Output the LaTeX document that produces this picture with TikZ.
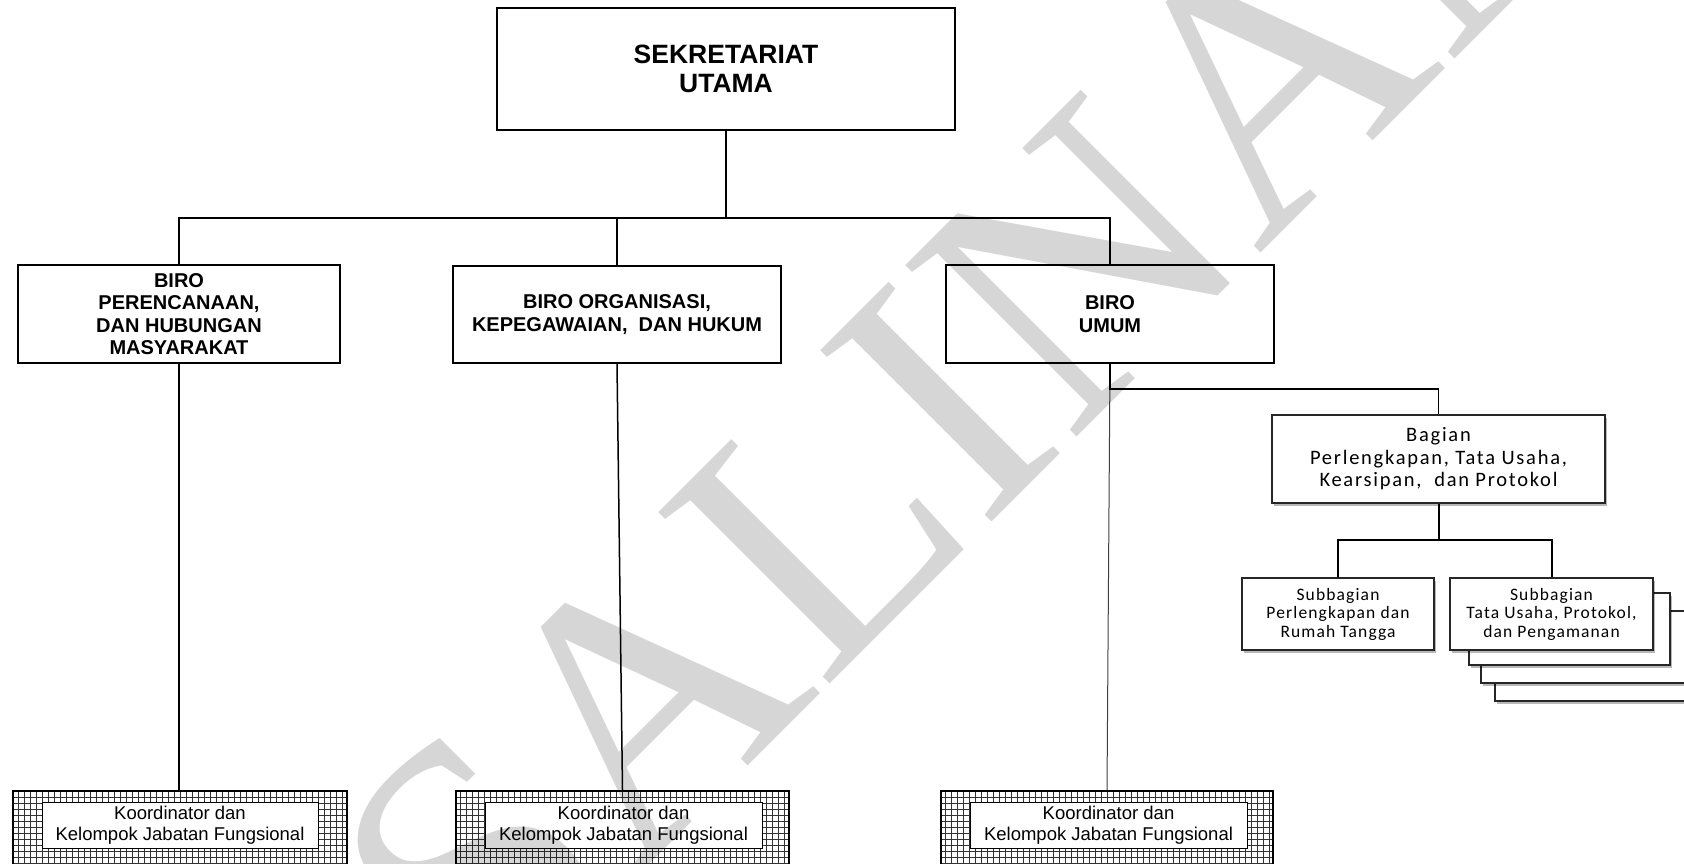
\documentclass[tikz,border=0pt]{standalone}
\usepackage{fontspec}
\setmainfont{Liberation Sans}
\newfontfamily\calA{Carlito}[LetterSpace=8.5]
\newfontfamily\calB{Carlito}[LetterSpace=6.5]
\newfontfamily\wmfont{Liberation Serif}
\usetikzlibrary{shadows}
\begin{document}
\begin{tikzpicture}[x=1pt,y=-1pt,
  box/.style={draw=black, line width=2pt, fill=white, inner sep=0pt, align=center},
  topbox/.style={box, font=\fontsize{26.5}{29.5}\selectfont\bfseries},
  birobox/.style={box, font=\fontsize{20}{22.5}\selectfont\bfseries},
  lightshadow/.style={drop shadow={shadow xshift=1.5pt, shadow yshift=-2.5pt, opacity=0.28, fill=black}},
  bagbox/.style={draw=black!85, line width=1.3pt, fill=white, inner sep=0pt, align=center, lightshadow,
     font=\calA\fontsize{20.5}{22.5}\selectfont},
  subbox/.style={draw=black!85, line width=1.2pt, fill=white, inner sep=0pt, align=center, lightshadow,
     font=\calB\fontsize{17.5}{18.5}\selectfont},
  stackbox/.style={draw=black!85, line width=1.2pt, fill=white, inner sep=0pt, lightshadow},
  kouter/.style={draw=black, line width=2.2pt, fill=white, inner sep=0pt,
     path picture={\draw[line width=0.75pt, black!80] (path picture bounding box.south west) grid[step=6pt] (path picture bounding box.north east);}},
  kinner/.style={draw=black, line width=1pt, fill=white, inner sep=0pt, align=center,
     font=\fontsize{18.5}{21}\selectfont},
  conn/.style={line width=2pt, black},
  connthin/.style={line width=1.5pt, black},
  connhair/.style={line width=1pt, black!75},
  watermark/.style={font=\wmfont\fontsize{370}{370}\selectfont, text=black, text opacity=0.16, inner sep=0pt}
]
\useasboundingbox (0,0) rectangle (1684,863);

% top level
\node[topbox, minimum width=458pt, minimum height=122pt] (top) at (726,69) {SEKRETARIAT\\UTAMA};

% biro boxes
\node[birobox, minimum width=322pt, minimum height=98pt] (b1) at (179,314) {BIRO\\PERENCANAAN,\\DAN HUBUNGAN\\MASYARAKAT};
\node[birobox, minimum width=328pt, minimum height=97pt] (b2) at (617,314.5) {BIRO ORGANISASI,\\KEPEGAWAIAN,\ \ DAN HUKUM};
\node[birobox, minimum width=328pt, minimum height=98pt] (b3) at (1110,314) {BIRO\\UMUM};

% bagian
\node[bagbox, minimum width=333pt, minimum height=88pt] (bag) at (1438.5,459) {Bagian\\Perlengkapan, Tata Usaha,\\Kearsipan,\ \ dan Protokol};

% stacked boxes behind second subbagian
\node[stackbox, minimum width=205pt, minimum height=73pt] (sD) at (1597.5,664.5) {};
\node[stackbox, minimum width=205pt, minimum height=72pt] (sC) at (1583.5,647) {};
\node[stackbox, minimum width=201pt, minimum height=72pt] (sB) at (1569.5,629) {};

% subbagian
\node[subbox, minimum width=192pt, minimum height=72pt] (s1) at (1338,614) {Subbagian\\Perlengkapan dan\\Rumah Tangga};
\node[subbox, minimum width=203pt, minimum height=72pt] (s2) at (1551.5,614) {Subbagian\\Tata Usaha, Protokol,\\dan Pengamanan};

% koordinator boxes
\node[kouter, minimum width=334pt, minimum height=84pt] (k1) at (180,833) {};
\node[kinner, minimum width=276pt, minimum height=46pt] (k1t) at (180,825) {Koordinator dan\\Kelompok Jabatan Fungsional};
\node[kouter, minimum width=333pt, minimum height=84pt] (k2) at (622.5,833) {};
\node[kinner, minimum width=277pt, minimum height=46pt] (k2t) at (623.5,825) {Koordinator dan\\Kelompok Jabatan Fungsional};
\node[kouter, minimum width=332pt, minimum height=84pt] (k3) at (1107,833) {};
\node[kinner, minimum width=277pt, minimum height=46pt] (k3t) at (1108.5,825) {Koordinator dan\\Kelompok Jabatan Fungsional};

% connectors
\coordinate (hl) at (179,218);
\coordinate (bj) at (1438.5,540);
\draw[conn] (top.south) -- (top.south |- hl);
\draw[conn] (b1.north) -- (b1.north |- hl) -- (b3.north |- hl) -- (b3.north);
\draw[conn] (b2.north) -- (b2.north |- hl);
\draw[connthin] (b1.south) -- (b1.south |- k1.north);
\draw[connthin] (b2.south) -- (k2.north);
\draw[connhair] (b3.south) -- (k3.north);
\draw[connthin] (b3.south) -- ++(0,25) -| (bag.north);
\draw[conn] (bag.south) -- (bj);
\draw[conn] (s1.north) -- (s1.north |- bj) -- (s2.north |- bj) -- (s2.north);

% watermark
\node[watermark, anchor=base, rotate=45] (wm) at (1062,452) {SALINAN};
\end{tikzpicture}
\end{document}
